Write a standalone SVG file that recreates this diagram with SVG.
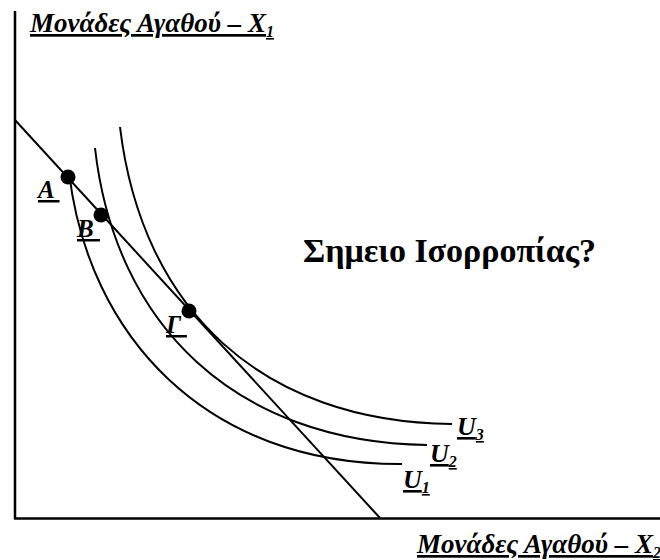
<svg xmlns="http://www.w3.org/2000/svg" width="660" height="560" viewBox="0 0 660 560">
<style>
.axis{stroke:#000;stroke-width:2.5;fill:none}
.ln{stroke:#000;stroke-width:2;fill:none}
.dot{fill:#000}
.lbl{font-family:"Liberation Serif","Times New Roman",serif;font-weight:bold;font-style:italic;text-decoration:underline;text-decoration-thickness:2.5px;white-space:pre;fill:#000}
.ttl{font-family:"Liberation Serif","Times New Roman",serif;font-weight:bold;fill:#000}
</style>
<rect width="660" height="560" fill="#fff"/>
<g id="axes">
<line class="axis" x1="15" y1="11" x2="15" y2="519"/>
<line class="axis" x1="14" y1="518.5" x2="660" y2="518.5"/>
</g>
<g id="connectors">
<path id="budget" class="ln" d="M15,120 L380,518"/>
<path id="U1-curve" class="ln" d="M69,172 C88,335 205,465 402,464"/>
<path id="U2-curve" class="ln" d="M95,148 C115,325 235,442 427,445"/>
<path id="U3-curve" class="ln" d="M120,127 C142,310 262,422 452,424"/>
</g>
<g id="pointA"><circle class="dot" cx="68" cy="177" r="7.5"/><text class="lbl" x="38" y="198" font-size="25">A </text></g>
<g id="pointB"><circle class="dot" cx="101" cy="215" r="7.5"/><text class="lbl" x="77" y="237" font-size="25">B </text></g>
<g id="pointG"><circle class="dot" cx="189" cy="311" r="7.5"/><text class="lbl" x="166" y="333" font-size="25">Γ </text></g>
<g id="U1"><text class="lbl" x="403" y="488" font-size="26">U<tspan font-size="16" dy="5">1</tspan></text></g>
<g id="U2"><text class="lbl" x="430" y="462" font-size="26">U<tspan font-size="16" dy="5">2</tspan></text></g>
<g id="U3"><text class="lbl" x="457" y="435" font-size="26">U<tspan font-size="16" dy="5">3</tspan></text></g>
<g id="ylabel"><text class="lbl" x="30" y="32" font-size="27">Μονάδες Αγαθού – X<tspan font-size="16" dy="5">1</tspan></text></g>
<g id="xlabel"><text class="lbl" x="417" y="553" font-size="27">Μονάδες Αγαθού – X<tspan font-size="16" dy="5">2</tspan></text></g>
<g id="question"><text class="ttl" x="303" y="262" font-size="34">Σημειο Ισορροπίας?</text></g>
</svg>
